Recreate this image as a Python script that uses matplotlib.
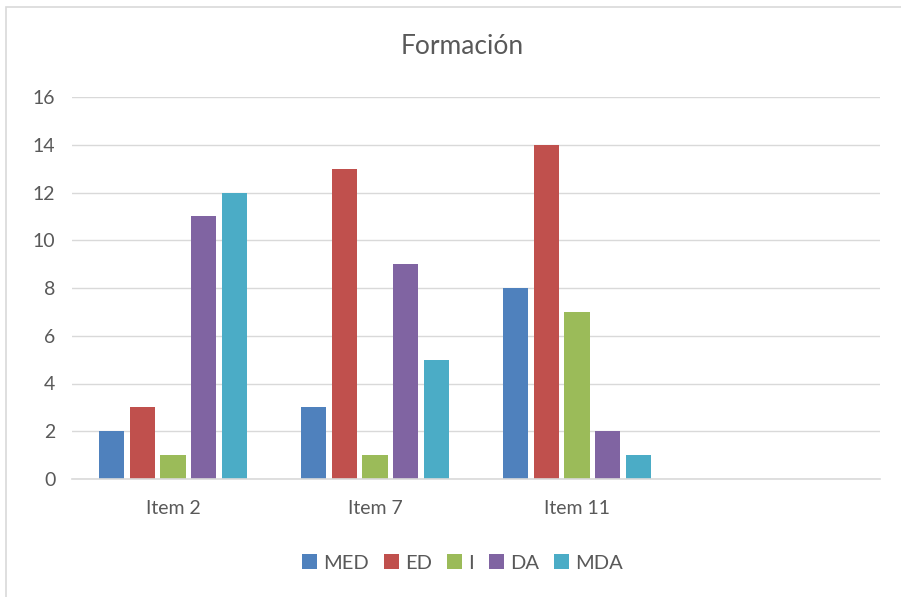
import numpy as np
import matplotlib.pyplot as plt
from matplotlib.patches import Rectangle

plt.rcParams['font.family'] = ['Lato', 'DejaVu Sans']

# datos
categorias = ['Item 2', 'Item 7', 'Item 11', '']
series = ['MED', 'ED', 'I', 'DA', 'MDA']
med = [2, 3, 8]
ed = [3, 13, 14]
i_vals = [1, 1, 7]
da = [11, 9, 2]
mda = [12, 5, 1]
valores = [med, ed, i_vals, da, mda]
colores = ['#4F81BD', '#C0504D', '#9BBB59', '#8064A2', '#4BACC6']

fig = plt.figure(figsize=(9.01, 5.97), dpi=100)
# borde del gráfico
fig.patches.append(Rectangle((6 / 901, -0.1), 1.1, 1 - 7 / 597 + 0.1, transform=fig.transFigure,
                             fill=False, edgecolor='#D9D9D9', linewidth=1.2))
ax = fig.add_axes([72 / 901, 1 - 479 / 597, (880 - 72) / 901, (479 - 97) / 597])

x = np.arange(len(categorias))
paso = 0.152
for k, (nombre, vals, c) in enumerate(zip(series, valores, colores)):
    ax.bar(x[:len(vals)] + (k - 2) * paso, vals, width=0.124, color=c,
           label=nombre, zorder=3)

ax.set_xlim(-0.5, 3.5)
ax.set_ylim(0, 16)
ax.set_yticks(range(0, 17, 2))
ax.set_xticks(x)
ax.set_xticklabels(categorias)
ax.grid(axis='y', color='#D9D9D9', linewidth=1, zorder=0)
for s in ['top', 'right', 'left']:
    ax.spines[s].set_visible(False)
ax.spines['bottom'].set_color('#D9D9D9')
ax.spines['bottom'].set_linewidth(1.2)
ax.spines['bottom'].set_zorder(4)
ax.tick_params(length=0, labelsize=14, colors='#595959', pad=12)
ax.tick_params(axis='x', pad=15)

fig.text(0.513, 1 - 47 / 597, 'Formación', ha='center', va='center', fontsize=19, color='#595959')
fig.legend(loc='center', bbox_to_anchor=(0.513, 1 - 563 / 597), ncol=5, frameon=False,
           fontsize=14.5, labelcolor='#595959', handlelength=0.75, handleheight=0.75,
           handletextpad=0.3, columnspacing=0.75)

plt.savefig('out.png', dpi=100)
